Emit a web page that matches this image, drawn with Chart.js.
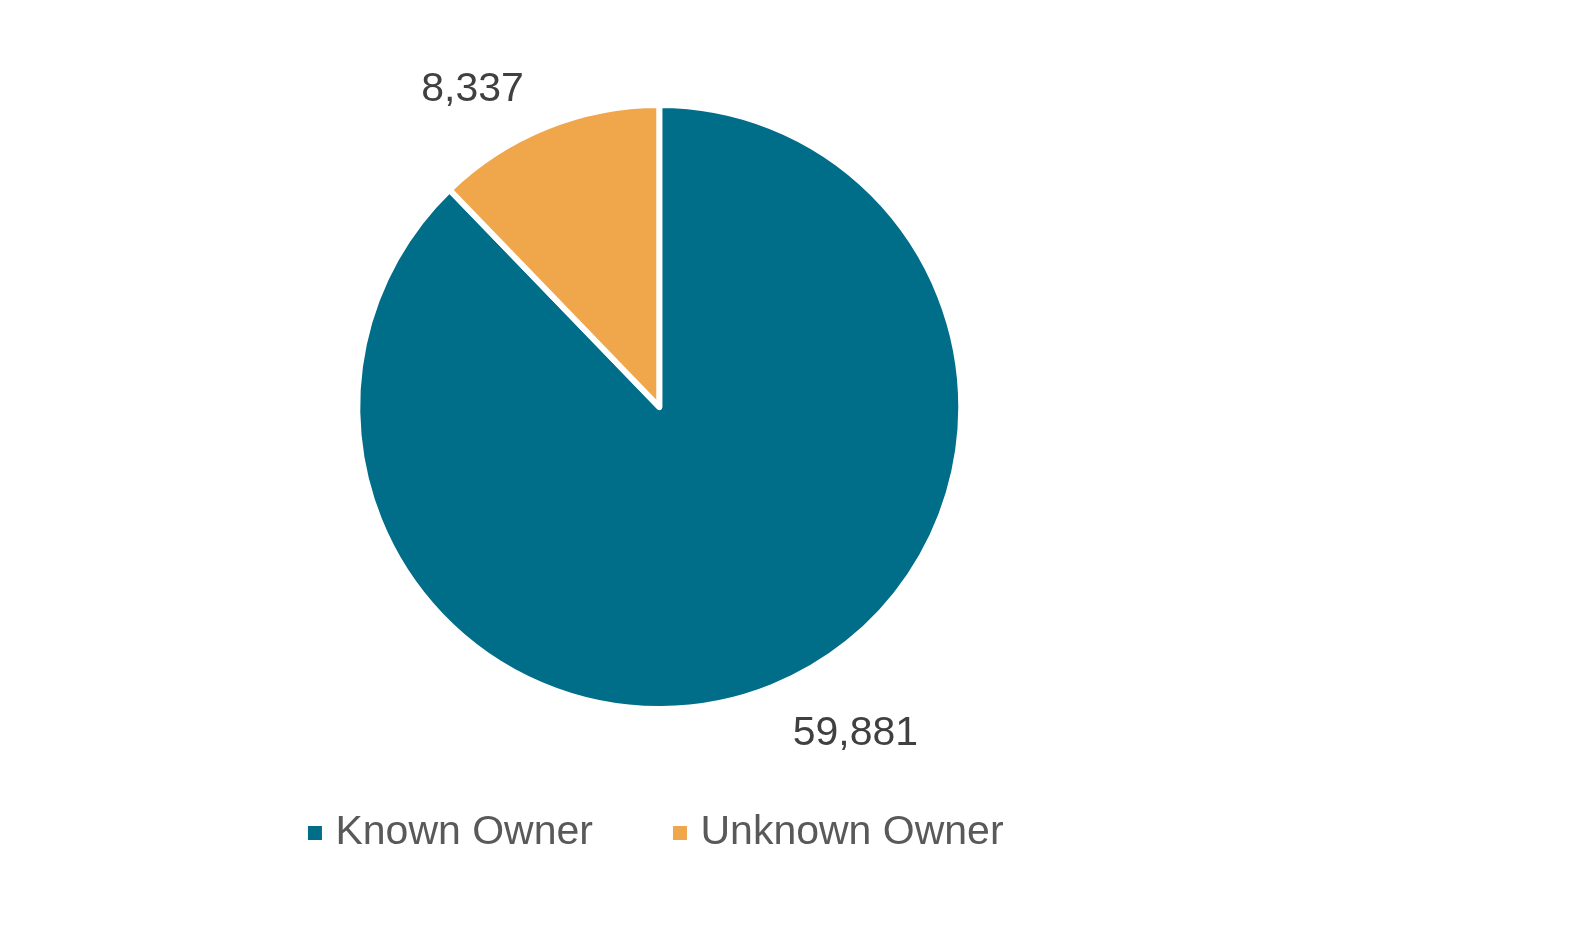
<!DOCTYPE html>
<html>
<head>
<meta charset="utf-8">
<script src="https://cdn.jsdelivr.net/npm/chart.js@4.4.1/dist/chart.umd.min.js"></script>
<style>
  html, body { margin: 0; padding: 0; background: #ffffff; }
  #wrap { width: 1589px; height: 944px; }
</style>
</head>
<body>
<div id="wrap"><canvas id="c" width="1589" height="944"></canvas></div>
<script>
const categories = ['Known Owner', 'Unknown Owner'];
const values = [59881, 8337];
const sliceColors = ['#006D89', '#F0A74C'];

const FONT = '"Liberation Sans", Arial, Helvetica, sans-serif';

const valueLabels = {
  id: 'valueLabels',
  afterDatasetsDraw(chart, args, opts) {
    const ctx = chart.ctx;
    const meta = chart.getDatasetMeta(0);
    ctx.save();
    ctx.font = '41px ' + FONT;
    ctx.fillStyle = '#404040';
    ctx.textAlign = 'center';
    ctx.textBaseline = 'middle';
    meta.data.forEach((arc, i) => {
      const p = arc.getProps(['x', 'y', 'startAngle', 'endAngle', 'outerRadius'], true);
      const mid = (p.startAngle + p.endAngle) / 2 + opts.angleShift[i] * Math.PI / 180;
      const r = p.outerRadius * opts.radiusFactor[i];
      const v = chart.data.datasets[0].data[i];
      ctx.fillText(v.toLocaleString('en-US'), p.x + Math.cos(mid) * r + 1, p.y + Math.sin(mid) * r + 3);
    });
    ctx.restore();
  }
};

new Chart(document.getElementById('c'), {
  type: 'pie',
  data: {
    labels: categories,
    datasets: [{
      data: values,
      backgroundColor: sliceColors,
      borderColor: '#ffffff',
      borderWidth: 6,
      borderJoinStyle: 'round'
    }]
  },
  options: {
    responsive: false,
    animation: false,
    devicePixelRatio: 1,
    layout: { padding: { left: 0, right: 270.5, top: 102, bottom: 80.5 } },
    plugins: {
      tooltip: { enabled: false },
      valueLabels: { angleShift: [-9.07, -8.36], radiusFactor: [1.2526, 1.2298] },
      legend: {
        display: true,
        position: 'bottom',
        align: 'center',
        title: {
          display: true, text: ' ', color: 'rgba(0,0,0,0)',
          font: { size: 2, lineHeight: 1 },
          padding: { top: 3, bottom: 8.5 }
        },
        labels: {
          usePointStyle: true,
          pointStyle: 'rect',
          boxWidth: 0.01,
          boxHeight: 14,
          padding: 87,
          color: '#595959',
          font: { family: FONT, size: 41 },
          generateLabels(chart) {
            return chart.data.labels.map((t, i) => ({
              text: t,
              fillStyle: sliceColors[i],
              strokeStyle: sliceColors[i],
              lineWidth: 0,
              pointStyle: 'rect',
              hidden: false,
              index: i,
              fontColor: '#595959'
            }));
          }
        }
      }
    }
  },
  plugins: [valueLabels]
});
</script>
</body>
</html>
